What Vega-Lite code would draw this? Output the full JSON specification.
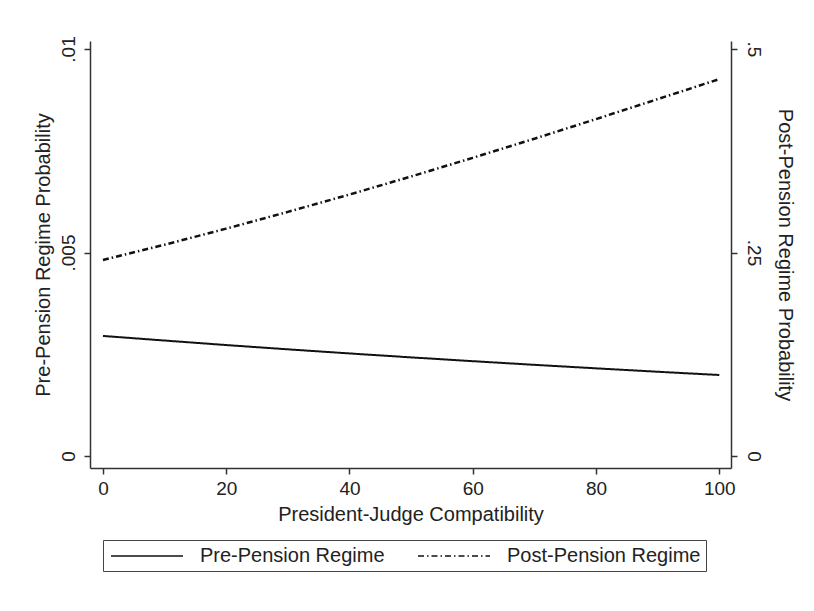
{
  "$schema": "https://vega.github.io/schema/vega-lite/v6.json",
  "width": 641,
  "height": 427,
  "autosize": "none",
  "padding": {"left": 90, "top": 41, "right": 83, "bottom": 143},
  "background": "white",
  "config": {
    "view": {"stroke": null},
    "font": "Liberation Sans",
    "axis": {"labelFont": "Liberation Sans", "titleFont": "Liberation Sans", "labelFontSize": 19, "titleFontSize": 20, "titleFontWeight": "normal", "labelColor": "#222", "titleColor": "#222", "domainColor": "#333", "tickColor": "#333", "domainWidth": 1.5, "tickWidth": 1.5, "tickSize": 6, "grid": false}
  },
  "data": {"values": [
    {"x": 0, "series": "Pre-Pension Regime", "pre": 0.00295},
    {"x": 10, "series": "Pre-Pension Regime", "pre": 0.002837},
    {"x": 20, "series": "Pre-Pension Regime", "pre": 0.002726},
    {"x": 30, "series": "Pre-Pension Regime", "pre": 0.002621},
    {"x": 40, "series": "Pre-Pension Regime", "pre": 0.00252},
    {"x": 50, "series": "Pre-Pension Regime", "pre": 0.002423},
    {"x": 60, "series": "Pre-Pension Regime", "pre": 0.00233},
    {"x": 70, "series": "Pre-Pension Regime", "pre": 0.00224},
    {"x": 80, "series": "Pre-Pension Regime", "pre": 0.002154},
    {"x": 90, "series": "Pre-Pension Regime", "pre": 0.00207},
    {"x": 100, "series": "Pre-Pension Regime", "pre": 0.00199},
    {"x": 0, "series": "Post-Pension Regime", "post": 0.2408},
    {"x": 10, "series": "Post-Pension Regime", "post": 0.2596},
    {"x": 20, "series": "Post-Pension Regime", "post": 0.2793},
    {"x": 30, "series": "Post-Pension Regime", "post": 0.2999},
    {"x": 40, "series": "Post-Pension Regime", "post": 0.3212},
    {"x": 50, "series": "Post-Pension Regime", "post": 0.3434},
    {"x": 60, "series": "Post-Pension Regime", "post": 0.3663},
    {"x": 70, "series": "Post-Pension Regime", "post": 0.3898},
    {"x": 80, "series": "Post-Pension Regime", "post": 0.4139},
    {"x": 90, "series": "Post-Pension Regime", "post": 0.4384},
    {"x": 100, "series": "Post-Pension Regime", "post": 0.463}
  ]},
  "encoding": {
    "x": {"field": "x", "type": "quantitative", "title": "President-Judge Compatibility",
      "scale": {"domain": [-2.1, 101.9], "nice": false, "zero": false},
      "axis": {"values": [0, 20, 40, 60, 80, 100], "labelPadding": 5, "titlePadding": 6}}
  },
  "layer": [
    {
      "transform": [{"filter": "datum.series == 'Pre-Pension Regime'"}],
      "mark": {"type": "line", "color": "#111", "strokeWidth": 2},
      "encoding": {
        "y": {"field": "pre", "type": "quantitative", "title": "Pre-Pension Regime Probability",
          "scale": {"domain": [-0.000295, 0.010197], "nice": false, "zero": false},
          "axis": {"orient": "left", "values": [0, 0.005, 0.01], "labelAngle": -90, "labelAlign": "center", "labelBaseline": "bottom", "labelPadding": 6, "labelExpr": "datum.value == 0 ? '0' : replace(format(datum.value, '~g'), '0.', '.')", "titlePadding": 6}},
        "strokeDash": {"field": "series", "type": "nominal",
          "scale": {"domain": ["Pre-Pension Regime", "Post-Pension Regime"], "range": [[1, 0], [6, 3, 1.5, 3]]},
          "legend": {"title": null, "orient": "none", "legendX": 13, "legendY": 499, "direction": "horizontal", "strokeColor": "#444", "padding": 5, "labelFontSize": 20, "labelFont": "Liberation Sans", "labelColor": "#222", "symbolType": "M-3.6,0H3.6", "symbolSize": 400, "symbolOffset": 28, "symbolStrokeWidth": 1.5, "symbolStrokeColor": "#111", "columnPadding": 30, "labelOffset": 42, "labelLimit": 400}}
      }
    },
    {
      "transform": [{"filter": "datum.series == 'Post-Pension Regime'"}],
      "mark": {"type": "line", "color": "#111", "strokeWidth": 2.5},
      "encoding": {
        "y": {"field": "post", "type": "quantitative", "title": "Post-Pension Regime Probability",
          "scale": {"domain": [-0.01474, 0.50983], "nice": false, "zero": false},
          "axis": {"orient": "right", "values": [0, 0.25, 0.5], "labelAngle": 90, "labelAlign": "center", "labelBaseline": "bottom", "labelPadding": 6, "labelExpr": "datum.value == 0 ? '0' : replace(format(datum.value, '~g'), '0.', '.')", "titleAngle": 90, "titlePadding": 12}},
        "strokeDash": {"field": "series", "type": "nominal"}
      }
    }
  ],
  "resolve": {"scale": {"y": "independent"}}
}
